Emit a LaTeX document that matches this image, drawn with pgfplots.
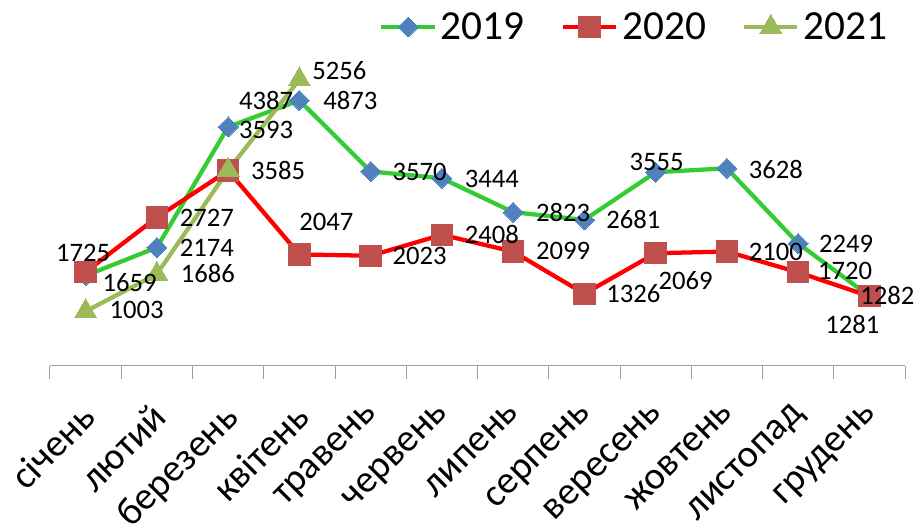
\documentclass[border=0pt]{standalone}
\usepackage{pgfplots}
\usepackage{pgfplotstable}
\pgfplotsset{compat=1.18}
\usepackage{fontspec}
\setmainfont{Carlito}
\definecolor{g19}{RGB}{51,204,51}
\definecolor{m19}{RGB}{79,129,189}
\definecolor{r20}{RGB}{255,0,0}
\definecolor{m20}{RGB}{192,80,77}
\definecolor{c21}{RGB}{155,187,89}
% x = month index, y = value, dx/dy = label offset (px, dy up)
\pgfplotstableread{
x y dx dy
0 1659 44 -7.5
1 2174 50 0
2 4387 38 26
3 4873 51 0
4 3570 49 -1
5 3444 50 -1
6 2823 50 0
7 2681 49 0
8 3555 1 10
9 3628 49 -1
10 2249 48 0
11 1282 18 1
}\dataA
\pgfplotstableread{
x y dx dy
0 1725 -2.5 19
1 2727 50 0
2 3585 50 0
3 2047 27 32
4 2023 49 0
5 2408 50 0
6 2099 50 1
7 1326 49 0
8 2069 30 -27
9 2100 49 0
10 1720 47 1
11 1281 -17 -28
}\dataB
\pgfplotstableread{
x y dx dy
0 1003 51 1
1 1686 51 1
2 3593 38 40
3 5256 40 9
}\dataC
\pgfplotsset{
  lbl/.style={draw=none, mark=none, forget plot,
    nodes near coords={\pgfplotspointmeta},
    point meta=explicit symbolic,
    visualization depends on={\thisrow{dx} \as \dx},
    visualization depends on={\thisrow{dy} \as \dy},
    every node near coord/.append style={font=\fontsize{20}{20}\selectfont, text=black},
    nodes near coords style={anchor=center, xshift=\dx*0.75, yshift=\dy*0.75}},
}
\begin{document}
\begin{tikzpicture}
\begin{axis}[
  scale only axis,
  width=641.25pt, height=245.25pt,
  xmin=-0.5, xmax=11.5, ymin=0, ymax=6000,
  axis x line=bottom, axis y line=none,
  axis line style={-, draw=gray!75, line width=0.75pt},
  xtick={0,...,11},
  xticklabels={січень,лютий,березень,квітень,травень,червень,липень,серпень,вересень,жовтень,листопад,грудень},
  major tick length=0pt,
  xticklabel style={xshift=-5pt, yshift=-26pt, rotate=45, anchor=north east, inner sep=0pt,
    font=\fontsize{29}{29}\selectfont},
  extra x ticks={-0.5,0.5,...,11.5},
  extra x tick labels={},
  extra x tick style={major tick length=9.75pt, tick align=outside,
    tick style={draw=gray!75, line width=0.75pt}},
  clip=false,
  legend columns=3,
  legend style={at={(1,1)}, anchor=east, xshift=-11pt, yshift=9pt,
    draw=none, fill=none, inner sep=0pt,
    font=\fontsize{31}{31}\selectfont,
    nodes={inner sep=2pt},
    /tikz/every odd column/.append style={column sep=1pt},
    /tikz/every even column/.append style={column sep=25pt}},
  legend image code/.code={\draw[mark repeat=2, mark phase=2] plot coordinates {(0pt,0pt) (20pt,0pt) (40pt,0pt)};},
]
\addplot[g19, line width=3.2pt, mark=square*, mark size=5.3pt,
  mark options={rotate=45, fill=m19, draw=m19, line width=0pt}]
  table[x=x, y=y] {\dataA};
\addlegendentry{2019}
\addplot[r20, line width=3.2pt, mark=square*, mark size=8pt,
  mark options={fill=m20, draw=m20, line width=0pt}]
  table[x=x, y=y] {\dataB};
\addlegendentry{2020}
\addplot[c21, line width=3.2pt, mark=triangle*, mark size=9.5pt,
  mark options={fill=c21, draw=c21, line width=0pt}]
  table[x=x, y=y] {\dataC};
\addlegendentry{2021}
% data labels
\addplot[lbl] table[x=x, y=y, meta=y] {\dataA};
\addplot[lbl] table[x=x, y=y, meta=y] {\dataB};
\addplot[lbl] table[x=x, y=y, meta=y] {\dataC};
\coordinate (SW) at (rel axis cs:0,0);
\coordinate (NE) at (rel axis cs:1,1);
\end{axis}
\pgfresetboundingbox
\path ([shift={(-37.5pt,-120pt)}]SW) rectangle ([shift={(9.75pt,29.25pt)}]NE);
\end{tikzpicture}
\end{document}
